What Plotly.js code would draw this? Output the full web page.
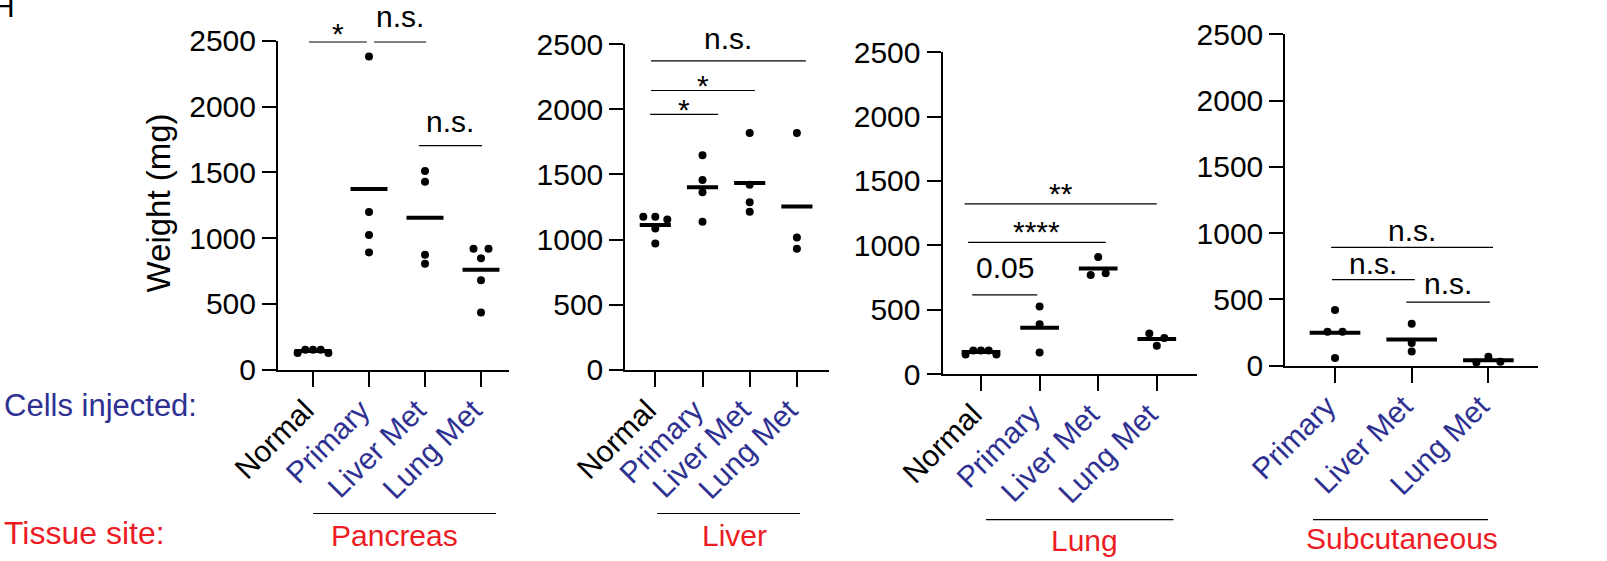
<!DOCTYPE html>
<html>
<head>
<meta charset="utf-8">
<script src="https://cdn.plot.ly/plotly-3.0.1.min.js"></script>
<style>html,body{margin:0;padding:0;background:#fff}#chart{width:1607px;height:561px}</style>
</head>
<body>
<div id="chart"></div>
<script>
// ---------------- DATA ----------------
const pancreasCats = ['Normal', 'Primary', 'Liver Met', 'Lung Met'];
const liverCats = ['Normal', 'Primary', 'Liver Met', 'Lung Met'];
const lungCats = ['Normal', 'Primary', 'Liver Met', 'Lung Met'];
const subcutCats = ['Primary', 'Liver Met', 'Lung Met'];

const pancreasNormal = [126, 152, 152, 152, 126];
const pancreasPrimary = [2379, 1199, 1023, 891];
const pancreasLiverMet = [1510, 1429, 874, 806];
const pancreasLungMet = [919, 919, 846, 679, 434];

const liverNormal = [1175, 1175, 1154, 1085, 970];
const liverPrimary = [1647, 1458, 1364, 1136];
const liverLiverMet = [1818, 1420, 1287, 1213];
const liverLungMet = [1818, 1016, 930];

const lungNormal = [152, 183, 183, 183, 152];
const lungPrimary = [524, 387, 168];
const lungLiverMet = [909, 770, 783];
const lungLungMet = [315, 220, 279];

const subcutPrimary = [421, 256, 256, 58];
const subcutLiverMet = [316, 171, 108];
const subcutLungMet = [25, 68, 30];

const yTicks = [0, 500, 1000, 1500, 2000, 2500];
const yTickText = ['0', '500', '1000', '1500', '2000', '2500'];

// significance labels and bar heights (mg)
const pancreasSigLabels = ['*', 'n.s.', 'n.s.'];
const pancreasSigHeights = [2490, 2490, 1702];
const liverSigLabels = ['n.s.', '*', '*'];
const liverSigHeights = [2372, 2145, 1961];
const lungSigLabels = ['**', '****', '0.05'];
const lungSigHeights = [1322, 1023, 615];
const subcutSigLabels = ['n.s.', 'n.s.', 'n.s.'];
const subcutSigHeights = [893, 650, 479];

const tissueNames = ['Pancreas', 'Liver', 'Lung', 'Subcutaneous'];

// ---------------- STYLE / LAYOUT ----------------
const W = 1607, H = 561;
const BLUE = '#2e3192', RED = '#ed1c24';
const FONT = '"Liberation Sans", Arial, Helvetica, sans-serif';
const FS = 30;

// pixel geometry of each panel (axis line positions, first tick, tick step)
const GEOM = [
  {left: 277, right: 509, top: 40.7, bottom: 370.7, tick0: 313, step: 56},
  {left: 624.3, right: 828.7, top: 44.3, bottom: 370.7, tick0: 655.3, step: 47.2},
  {left: 941.5, right: 1197, top: 52.3, bottom: 375, tick0: 981, step: 58.6},
  {left: 1284.3, right: 1538, top: 34.3, bottom: 366.7, tick0: 1335, step: 76.7}
];
// horizontal spans of the significance bars (category units) and label shifts (px)
const SIG_SPANS = [
  [[-0.07, 0.96], [1.09, 2.02], [1.89, 3.02]],
  [[-0.09, 3.19], [-0.09, 2.11], [-0.11, 1.33]],
  [[-0.28, 3.0], [-0.22, 2.13], [-0.15, 0.96]],
  [[-0.05, 2.06], [-0.04, 1.04], [0.93, 2.02]]
];
const SIG_SHIFT = [
  [-10, 6.6, 5.3],
  [3.6, -13, -14],
  [-7.7, -7.4, 9],
  [-1.7, -2, 0.6]
];
// tissue underline (px) and label centre (px)
const TISSUE_LINE = [[313, 496, 513.5], [657, 800, 513.5], [986, 1173.5, 519.6], [1313, 1488, 519.6]];
const TISSUE_TEXT = [[394.6, 535], [734, 535], [1084, 540], [1402, 538]];

const ROW_PX = 8;            // points within this vertical distance share a row
const PITCH = {1: 0, 2: 15, 3: 12, 4: 9, 5: 7.7};
const MEAN_HALF = 0.33;

const panels = [
  {cats: pancreasCats, groups: [pancreasNormal, pancreasPrimary, pancreasLiverMet, pancreasLungMet],
   sigLabels: pancreasSigLabels, sigHeights: pancreasSigHeights},
  {cats: liverCats, groups: [liverNormal, liverPrimary, liverLiverMet, liverLungMet],
   sigLabels: liverSigLabels, sigHeights: liverSigHeights},
  {cats: lungCats, groups: [lungNormal, lungPrimary, lungLiverMet, lungLungMet],
   sigLabels: lungSigLabels, sigHeights: lungSigHeights},
  {cats: subcutCats, groups: [subcutPrimary, subcutLiverMet, subcutLungMet],
   sigLabels: subcutSigLabels, sigHeights: subcutSigHeights}
];

function mean(a) { return a.reduce((s, v) => s + v, 0) / a.length; }

function rowOffsets(vals, pxPerUnit, catPx) {
  const idx = vals.map((_, i) => i).sort((a, b) => vals[b] - vals[a]);
  const rows = [];
  let cur = null;
  idx.forEach(i => {
    if (cur && (vals[cur[0]] - vals[i]) * pxPerUnit <= ROW_PX) cur.push(i);
    else { cur = [i]; rows.push(cur); }
  });
  const off = new Array(vals.length).fill(0);
  rows.forEach(row => {
    row.sort((a, b) => a - b);
    const m = row.length;
    const pitch = PITCH[Math.min(m, 5)];
    row.forEach((i, k) => { off[i] = (k - (m - 1) / 2) * pitch / catPx; });
  });
  return off;
}

function tickLabel(c) {
  return c === 'Normal' ? c : '<span style="color:' + BLUE + '">' + c + '</span>';
}

const traces = [];
const layout = {
  width: W, height: H,
  margin: {l: 0, r: 0, t: 0, b: 0},
  paper_bgcolor: '#fff', plot_bgcolor: 'rgba(0,0,0,0)',
  showlegend: false,
  font: {family: FONT, size: FS, color: '#000'},
  shapes: [], annotations: []
};

panels.forEach((p, k) => {
  const g = GEOM[k];
  const s = k === 0 ? '' : String(k + 1);
  const xa = 'x' + s, ya = 'y' + s;
  const pxPerUnit = (g.bottom - g.top) / 2500;

  const mx = [], my = [], px = [], py = [];
  p.groups.forEach((vals, gi) => {
    const off = rowOffsets(vals, pxPerUnit, g.step);
    vals.forEach((v, j) => { px.push(gi + off[j]); py.push(v); });
    const m = mean(vals);
    mx.push(gi - MEAN_HALF, gi + MEAN_HALF, null);
    my.push(m, m, null);
  });
  traces.push({x: mx, y: my, mode: 'lines', line: {color: '#000', width: 4},
               xaxis: xa, yaxis: ya, hoverinfo: 'skip', cliponaxis: false});
  traces.push({x: px, y: py, mode: 'markers', marker: {color: '#000', size: 8},
               xaxis: xa, yaxis: ya, cliponaxis: false});

  layout['xaxis' + s] = {
    domain: [(g.left + 1) / W, g.right / W],
    range: [(g.left + 1 - g.tick0) / g.step, (g.right - g.tick0) / g.step],
    anchor: ya,
    tickmode: 'array',
    tickvals: p.cats.map((_, i) => i),
    ticktext: p.cats.map(tickLabel),
    tickangle: -45,
    ticklabelshift: -8,
    ticklabelstandoff: -6,
    ticks: 'outside', ticklen: 15, tickwidth: 2, tickcolor: '#000',
    showline: true, linewidth: 2, linecolor: '#000',
    showgrid: false, zeroline: false, fixedrange: true,
    tickfont: {family: FONT, size: FS, color: '#000'}
  };
  layout['yaxis' + s] = {
    domain: [1 - (g.bottom - 1) / H, 1 - g.top / H],
    range: [0, 2500],
    anchor: xa,
    tickmode: 'array', tickvals: yTicks, ticktext: yTickText,
    ticks: 'outside', ticklen: 14, tickwidth: 2, tickcolor: '#000',
    showline: true, linewidth: 2, linecolor: '#000',
    showgrid: false, zeroline: false, fixedrange: true,
    tickfont: {family: FONT, size: FS, color: '#000'}
  };

  p.sigLabels.forEach((lab, i) => {
    const span = SIG_SPANS[k][i];
    const yv = p.sigHeights[i];
    layout.shapes.push({type: 'line', xref: xa, yref: ya, x0: span[0], x1: span[1], y0: yv, y1: yv,
                        line: {color: '#000', width: 1.2}});
    layout.annotations.push({xref: xa, yref: ya, x: (span[0] + span[1]) / 2, y: yv,
                             text: lab, showarrow: false, xanchor: 'center', yanchor: 'bottom',
                             yshift: SIG_SHIFT[k][i], font: {family: FONT, size: FS, color: '#000'}});
  });

  // tissue site underline + label
  const tl = TISSUE_LINE[k];
  layout.shapes.push({type: 'line', xref: 'paper', yref: 'paper', x0: tl[0] / W, x1: tl[1] / W,
                      y0: 1 - tl[2] / H, y1: 1 - tl[2] / H, line: {color: '#000', width: 1.2}});
  const tt = TISSUE_TEXT[k];
  layout.annotations.push({xref: 'paper', yref: 'paper', x: tt[0] / W, y: 1 - tt[1] / H,
                           text: tissueNames[k], showarrow: false, xanchor: 'center', yanchor: 'middle',
                           font: {family: FONT, size: FS, color: RED}});
});

layout.annotations.push(
  {xref: 'paper', yref: 'paper', x: 158 / W, y: 1 - 203.5 / H, text: 'Weight (mg)', textangle: -90,
   showarrow: false, xanchor: 'center', yanchor: 'middle', font: {family: FONT, size: 33, color: '#000'}},
  {xref: 'paper', yref: 'paper', x: 2 / W, y: 1 - 405 / H, text: 'Cells injected:',
   showarrow: false, xanchor: 'left', yanchor: 'middle', font: {family: FONT, size: 31, color: BLUE}},
  {xref: 'paper', yref: 'paper', x: 2 / W, y: 1 - 533 / H, text: 'Tissue site:',
   showarrow: false, xanchor: 'left', yanchor: 'middle', font: {family: FONT, size: 32, color: RED}},
  {xref: 'paper', yref: 'paper', x: 17 / W, y: 1 - 25.4 / H, text: 'H',
   showarrow: false, xanchor: 'right', yanchor: 'bottom', font: {family: FONT, size: FS, color: '#000'}}
);

Plotly.newPlot('chart', traces, layout, {displayModeBar: false, staticPlot: true});
</script>
</body>
</html>
